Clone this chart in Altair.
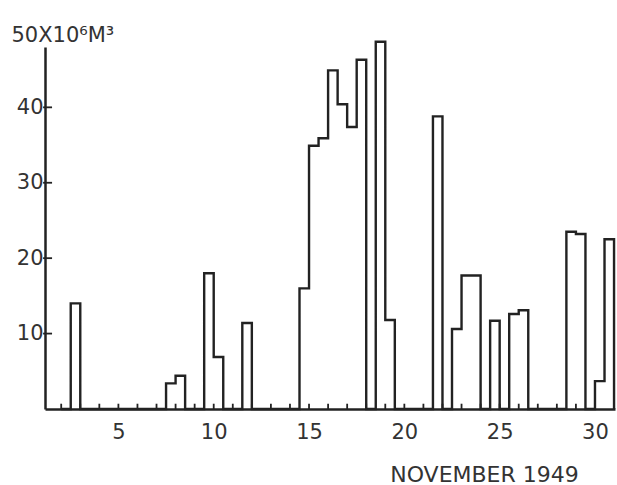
import altair as alt
import pandas as pd

# half-day bins (start day) with a non-zero volume, in 10^6 m^3
bin_start = [2.5, 7.5, 8.0, 9.5, 10.0, 11.5, 14.5, 15.0, 15.5, 16.0, 16.5, 17.0,
             17.5, 18.5, 19.0, 21.5, 22.5, 23.0, 23.5, 24.5, 25.5, 26.0, 28.5,
             29.0, 30.0, 30.5]
volume = [14.0, 3.4, 4.4, 18.0, 6.9, 11.4, 16.0, 34.9, 35.9, 44.9, 40.4, 37.4,
          46.3, 48.7, 11.8, 38.8, 10.6, 17.7, 17.7, 11.7, 12.6, 13.1, 23.5,
          23.2, 3.7, 22.5]
x_labels = [5, 10, 15, 20, 25, 30]
y_labels = [10, 20, 30, 40]
tick_days = list(range(2, 31))

X_DOM = [1.15, 31.05]
Y_DOM = [0, 48]
INK = "#222222"
FONT = "DejaVu Sans"

lookup = dict(zip(bin_start, volume))
grid = [2.0 + 0.5 * i for i in range(0, 59)]  # 2.0 .. 31.0
series = pd.DataFrame({"day": grid, "v": [lookup.get(g, 0.0) for g in grid]})

xs = alt.Scale(domain=X_DOM, nice=False, zero=False)
ys = alt.Scale(domain=Y_DOM, nice=False)

ax_x = alt.Axis(
    values=x_labels, ticks=False, grid=False, labelPadding=12,
    labelFontSize=21, labelFont=FONT, labelColor="#333",
    domainColor=INK, domainWidth=2.5,
    title="NOVEMBER 1949", titleFont=FONT, titleFontSize=22,
    titleFontWeight="normal", titleColor="#333",
    titleX=439, titleY=72, titleAnchor="middle", titleAlign="center",
    titleBaseline="alphabetic")
ax_y = alt.Axis(
    values=y_labels, ticks=False, grid=False, labelPadding=2,
    labelFontSize=21, labelFont=FONT, labelColor="#333",
    domainColor=INK, domainWidth=2.5,
    title="50X10⁶M³", titleFont=FONT, titleFontSize=21,
    titleFontWeight="normal", titleColor="#333", titleAngle=0,
    titleX=-34, titleY=-6, titleAlign="left", titleBaseline="alphabetic")

steps = alt.Chart(series).mark_line(
    interpolate="step-after", color=INK, strokeWidth=2.4, clip=False
).encode(
    x=alt.X("day:Q", scale=xs, axis=ax_x),
    y=alt.Y("v:Q", scale=ys, axis=ax_y),
)

xt = pd.DataFrame({"day": tick_days, "y0": [0.0] * len(tick_days),
                   "y1": [0.7] * len(tick_days)})
x_ticks = alt.Chart(xt).mark_rule(color=INK, strokeWidth=1.8).encode(
    x=alt.X("day:Q", scale=xs, axis=ax_x),
    y=alt.Y("y0:Q", scale=ys, axis=ax_y),
    y2="y1:Q",
)

yt = pd.DataFrame({"y": y_labels, "x0": [X_DOM[0] - 0.1] * len(y_labels),
                   "x1": [X_DOM[0] + 0.37] * len(y_labels)})
y_ticks = alt.Chart(yt).mark_rule(color=INK, strokeWidth=1.8).encode(
    y=alt.Y("y:Q", scale=ys, axis=ax_y),
    x=alt.X("x0:Q", scale=xs, axis=ax_x),
    x2="x1:Q",
)

chart = alt.layer(steps, x_ticks, y_ticks).properties(
    width=570, height=362,
    autosize=alt.AutoSizeParams(type="none"),
    padding={"left": 45, "top": 47, "right": 2, "bottom": 76},
    background="white",
).configure_view(stroke=None)

chart.save("out.html", embed_options={"renderer": "svg", "actions": False})
